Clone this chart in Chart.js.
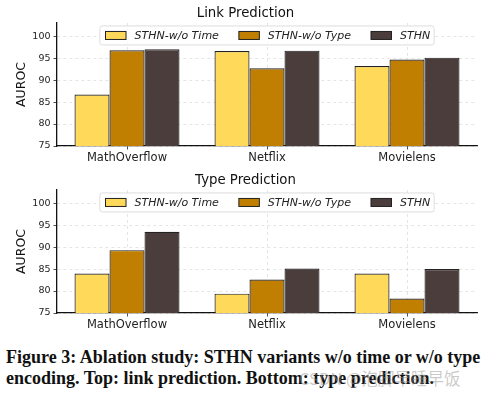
<!DOCTYPE html>
<html>
<head>
<meta charset="utf-8">
<script src="https://cdn.jsdelivr.net/npm/chart.js@4"></script>
<style>
  body { margin: 0; background: #fff; width: 503px; height: 397px; overflow: hidden; position: relative; }
  canvas { position: absolute; left: 0; }
  #linkChart { top: 0; }
  #typeChart { top: 167px; }
  .caption { position: absolute; left: 6px; top: 347px; font-family: "Liberation Serif", serif; font-weight: bold; font-size: 18px; line-height: 20.5px; color: #111; white-space: nowrap; }
  .wm { position: absolute; left: 299px; top: 366px; font-family: "Noto Sans CJK SC", sans-serif; font-size: 16.5px; color: rgba(150,150,150,0.5); white-space: nowrap; }
</style>
</head>
<body>
<canvas id="linkChart" width="503" height="167"></canvas>
<canvas id="typeChart" width="503" height="167"></canvas>
<div class="caption">Figure 3: Ablation study: STHN variants w/o time or w/o type<br>encoding. Top: link prediction. Bottom: type prediction.</div>
<div class="wm">CSDN @泡脚早睡早饭</div>
<script>
// données
const categories = ['MathOverflow', 'Netflix', 'Movielens'];
const seriesNames = ['STHN-w/o Time', 'STHN-w/o Type', 'STHN'];
const seriesColors = ['#FFD95A', '#C07F00', '#4C3D3D'];

const linkWoTime = [86.7, 96.6, 93.2];
const linkWoType = [96.8, 92.7, 94.7];
const linkFull = [97.0, 96.7, 95.1];

const typeWoTime = [84.0, 79.4, 84.0];
const typeWoType = [89.3, 82.6, 78.3];
const typeFull = [93.5, 85.1, 85.0];

const yMin = 75;
const yMax = 103;
const yStep = 5;

const FONT = 'DejaVu Sans';

// légende dessinée dans la zone du graphique (comme matplotlib)
const innerLegend = {
    id: 'innerLegend',
    afterDatasetsDraw(chart) {
        const ctx = chart.ctx;
        const area = chart.chartArea;
        ctx.save();
        ctx.font = 'italic 11px "' + FONT + '"';
        const sw = 20.5, sh = 8, gapText = 8.5, colGap = 20, padL = 5.7, padR = 4;
        const widths = chart.data.datasets.map(d => ctx.measureText(d.label).width);
        let total = padL + padR + colGap * (widths.length - 1);
        widths.forEach(w => { total += sw + gapText + w; });
        const bx = (area.left + area.right) / 2 - total / 2;
        const by = area.top + 3;
        const bh = 19;
        ctx.beginPath();
        ctx.roundRect(bx, by, total, bh, 2.5);
        ctx.fillStyle = 'rgba(255,255,255,0.85)';
        ctx.fill();
        ctx.lineWidth = 0.8;
        ctx.strokeStyle = '#d5d5d5';
        ctx.stroke();
        let x = bx + padL;
        const cy = by + bh / 2;
        chart.data.datasets.forEach((d, i) => {
            ctx.fillStyle = d.backgroundColor;
            ctx.fillRect(x, cy - sh / 2, sw, sh);
            ctx.lineWidth = 1;
            ctx.strokeStyle = '#222';
            ctx.strokeRect(x, cy - sh / 2, sw, sh);
            ctx.fillStyle = '#222';
            ctx.textBaseline = 'middle';
            ctx.fillText(d.label, x + sw + gapText, cy + 0.5);
            x += sw + gapText + widths[i] + colGap;
        });
        ctx.restore();
    }
};

function makeChart(id, title, values) {
    new Chart(document.getElementById(id), {
        type: 'bar',
        data: {
            labels: categories,
            datasets: values.map((v, i) => ({
                label: seriesNames[i],
                data: v,
                backgroundColor: seriesColors[i],
                borderColor: '#222',
                borderWidth: 1.2,
                borderSkipped: false,
                categoryPercentage: 0.75,
                barPercentage: 1
            }))
        },
        options: {
            responsive: false,
            animation: false,
            devicePixelRatio: 1,
            layout: { padding: { left: 14, right: 26, top: 0, bottom: 0 } },
            scales: {
                x: {
                    grid: { offset: false, color: 'rgba(0,0,0,0.13)', tickColor: '#222', tickLength: 3.5, lineWidth: 0.8 },
                    border: { color: '#111', width: 1.3, dash: [3, 3] },
                    ticks: { color: '#222', padding: 2, font: { family: FONT, size: 11.5 } },
                    afterFit: s => { s.height = 21; }
                },
                y: {
                    min: yMin,
                    max: yMax,
                    grid: { color: 'rgba(0,0,0,0.13)', tickColor: '#222', tickLength: 3.5, lineWidth: 0.8 },
                    border: { color: '#111', width: 1.3, dash: [3, 3] },
                    ticks: { stepSize: yStep, includeBounds: false, color: '#222', padding: 3, font: { family: FONT, size: 9.5 } },
                    title: { display: true, text: 'AUROC', color: '#111', padding: { top: 0, bottom: 0 }, font: { family: FONT, size: 12.5 } },
                    afterFit: s => { s.width = 43; }
                }
            },
            plugins: {
                legend: { display: false },
                tooltip: { enabled: false },
                title: {
                    display: true,
                    text: title,
                    color: '#111',
                    padding: { top: 6, bottom: 1 },
                    font: { family: FONT, size: 13.3, weight: 'normal' }
                }
            }
        },
        plugins: [innerLegend]
    });
}

makeChart('linkChart', 'Link Prediction', [linkWoTime, linkWoType, linkFull]);
makeChart('typeChart', 'Type Prediction', [typeWoTime, typeWoType, typeFull]);
</script>
</body>
</html>
